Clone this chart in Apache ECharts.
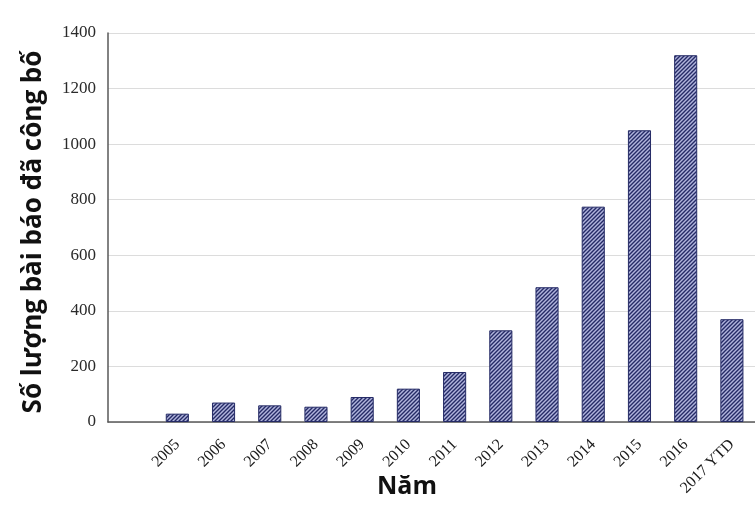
<!DOCTYPE html>
<html>
<head>
<meta charset="utf-8">
<script src="https://cdn.jsdelivr.net/npm/echarts@6/dist/echarts.min.js"></script>
<style>html,body{margin:0;padding:0;background:#fff}#c{width:755px;height:512px}</style>
</head>
<body>
<div id="c"></div>
<script>
var categories = ['', '2005', '2006', '2007', '2008', '2009', '2010', '2011', '2012', '2013', '2014', '2015', '2016', '2017 YTD'];
var values = ['-', 30, 70, 60, 55, 90, 120, 180, 330, 485, 775, 1050, 1320, 370];
var yTicks = [0, 200, 400, 600, 800, 1000, 1200, 1400];
var yTitle = 'Số lượng bài báo đã công bố';
var xTitle = 'Năm';

function makePattern() {
  var c = document.createElement('canvas');
  c.width = 4; c.height = 4;
  var g = c.getContext('2d');
  g.fillStyle = '#b0b4dc';
  g.fillRect(0, 0, 4, 4);
  g.strokeStyle = '#252b66';
  g.lineWidth = 1.4;
  g.beginPath();
  g.moveTo(-1, 5); g.lineTo(5, -1);
  g.moveTo(-1, 1); g.lineTo(1, -1);
  g.moveTo(3, 5); g.lineTo(5, 3);
  g.stroke();
  return c;
}

var chart = echarts.init(document.getElementById('c'));
chart.setOption({
  animation: false,
  backgroundColor: '#ffffff',
  grid: { left: 108, right: -6, top: 33, bottom: 90, containLabel: false },
  xAxis: {
    type: 'category',
    data: categories,
    axisLine: { lineStyle: { color: '#595959', width: 1.5 } },
    axisTick: { show: false },
    axisLabel: {
      rotate: 45, interval: 0, margin: 20,
      fontFamily: 'Liberation Serif', fontSize: 16, color: '#1a1a1a'
    }
  },
  yAxis: {
    type: 'value',
    min: yTicks[0], max: yTicks[yTicks.length - 1], interval: 200,
    axisLine: { show: true, lineStyle: { color: '#595959', width: 1.5 } },
    axisTick: { show: false },
    splitLine: { lineStyle: { color: '#dcdcdc', width: 1.2 } },
    axisLabel: {
      margin: 12, fontFamily: 'Liberation Serif', fontSize: 17, color: '#2a2a2a',
      formatter: function (v) { return String(v); }
    }
  },
  graphic: [
    {
      type: 'text',
      x: 34, y: 232, rotation: Math.PI / 2,
      style: { text: yTitle, font: 'bold 26px "Open Sans"', fill: '#111', align: 'center', verticalAlign: 'middle' }
    },
    {
      type: 'text',
      x: 407, y: 487,
      style: { text: xTitle, font: 'bold 25px "Open Sans"', fill: '#111', align: 'center', verticalAlign: 'middle' }
    }
  ],
  series: [{
    type: 'bar',
    data: values,
    barWidth: '50%',
    itemStyle: {
      color: { image: makePattern(), repeat: 'repeat' },
      borderColor: '#252b66', borderWidth: 1
    }
  }]
});
</script>
</body>
</html>
